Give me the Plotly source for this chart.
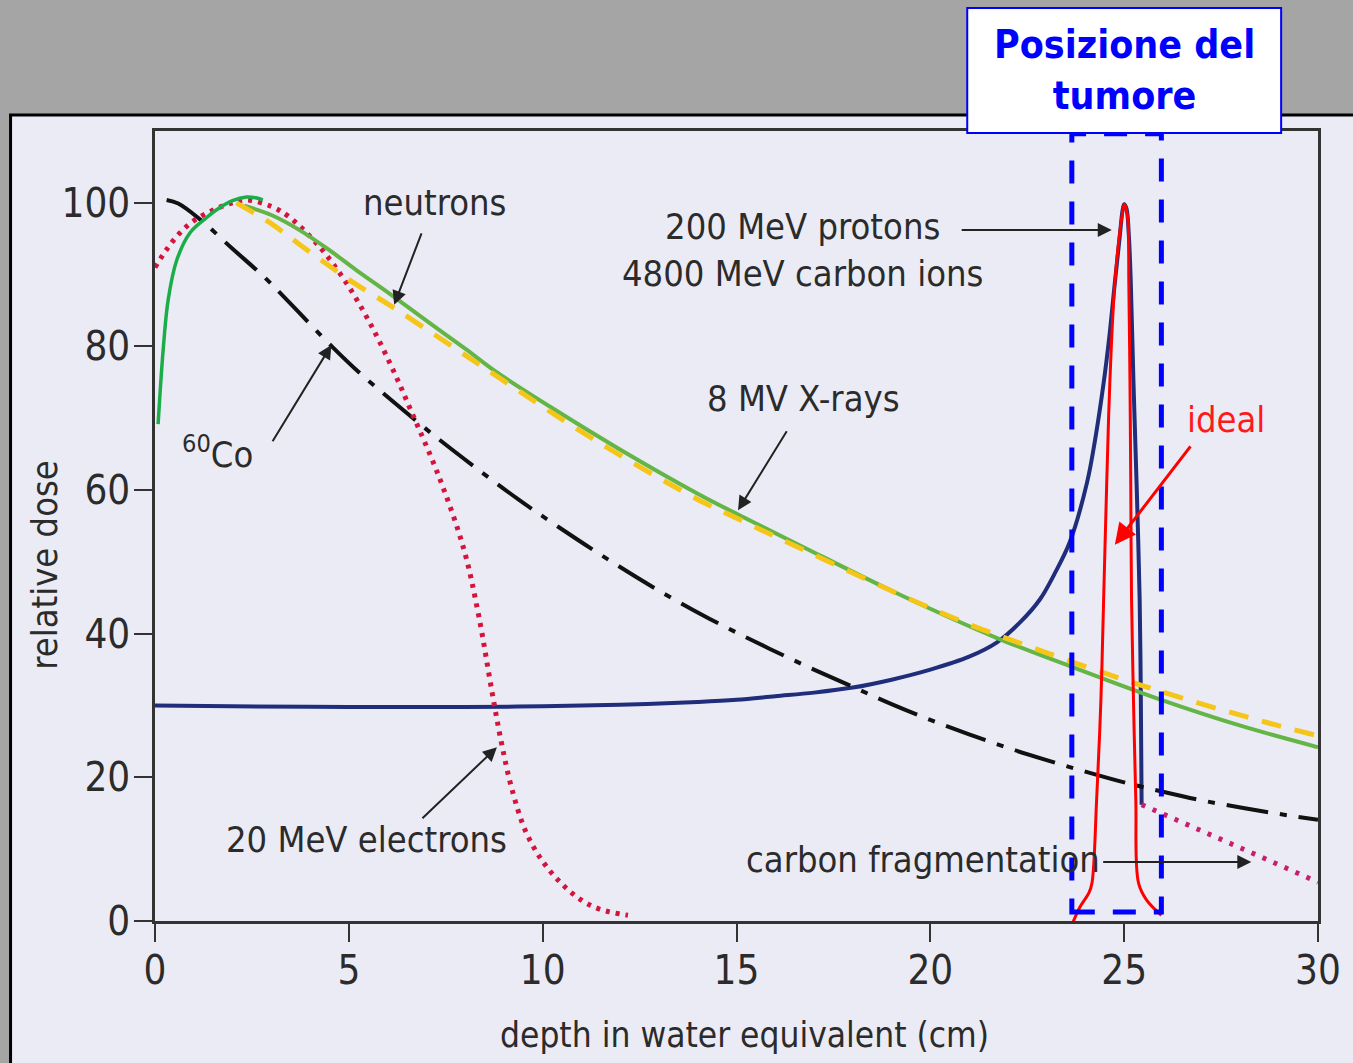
import plotly.graph_objects as go

# ---------------- data ----------------
xr_build_x = [0.08, 0.21, 0.34, 0.56, 0.9, 1.3, 1.58, 2.0, 2.36, 2.6, 2.78]
xr_build_y = [69.2, 79.5, 86.5, 92.0, 95.8, 97.8, 99.0, 100.3, 100.8, 100.7, 100.4]

xray_x = [2.3, 3.0, 3.73, 4.5, 5.2, 6.04, 7.0, 8.0, 8.87, 10.4, 11.95, 14.0, 15.04, 16.6, 19.15, 21.72, 23.6, 25.9, 28.0, 30.0]
xray_y = [99.6, 98.3, 96.2, 93.4, 90.6, 87.4, 83.6, 79.7, 76.2, 70.9, 65.8, 59.5, 56.6, 52.4, 45.6, 39.4, 35.5, 30.9, 27.2, 24.2]

neutron_x = [2.1, 3.0, 3.73, 4.5, 5.2, 6.04, 7.0, 8.0, 9.0, 10.4, 11.95, 14.0, 15.04, 16.6, 19.15, 21.0, 22.2, 24.5, 26.4, 28.7, 30.0]
neutron_y = [100.0, 97.1, 94.2, 91.2, 88.6, 85.8, 82.4, 78.8, 75.2, 70.2, 65.0, 58.7, 56.0, 52.0, 45.6, 41.3, 38.9, 34.5, 31.2, 27.6, 25.8]

co60_x = [0.3, 0.6, 1.16, 2.0, 2.83, 3.47, 4.58, 5.3, 6.17, 7.2, 8.35, 9.4, 10.4, 11.7, 13.0, 14.3, 15.55, 16.8, 18.0, 19.0, 20.0, 21.0, 22.0, 23.0, 24.0, 25.0, 26.0, 27.0, 28.0, 29.0, 30.0]
co60_y = [100.4, 99.9, 97.7, 93.6, 89.6, 86.1, 79.9, 76.2, 72.2, 67.6, 62.8, 58.6, 54.9, 50.3, 46.0, 42.1, 38.7, 35.5, 32.6, 30.2, 28.0, 26.0, 24.1, 22.4, 20.8, 19.3, 18.0, 16.8, 15.8, 14.9, 14.1]

elec_x = [0.0, 0.3, 0.64, 1.0, 1.5, 2.0, 2.36, 3.0, 3.47, 4.24, 4.93, 5.6, 6.22, 6.56, 7.33, 7.97, 8.35, 8.69, 8.93, 9.2, 9.56, 10.0, 10.47, 11.0, 11.5, 12.2]
elec_y = [91.0, 93.5, 95.8, 97.5, 99.0, 100.0, 100.4, 99.5, 98.0, 93.9, 88.9, 82.7, 75.8, 71.6, 61.8, 51.7, 42.5, 32.0, 25.0, 18.5, 12.5, 8.3, 5.3, 2.9, 1.6, 0.8]

proton_x = [0.0, 2.0, 5.0, 8.0, 10.0, 12.0, 14.0, 15.0, 16.0, 17.0, 18.0, 19.0, 20.0, 21.0, 21.72, 22.3, 22.83, 23.2, 23.6, 24.04, 24.25, 24.47, 24.62, 24.76, 24.88, 24.96, 25.0, 25.06, 25.12, 25.17, 25.24, 25.32, 25.4, 25.43, 25.45]
proton_y = [30.0, 29.9, 29.8, 29.8, 29.9, 30.1, 30.5, 30.8, 31.3, 31.8, 32.5, 33.6, 35.0, 36.8, 38.8, 41.5, 44.8, 48.3, 52.8, 61.0, 67.0, 74.9, 81.5, 88.9, 95.0, 99.0, 99.8, 99.2, 95.5, 89.0, 75.0, 61.0, 44.7, 30.8, 16.2]

frag_x = [25.45, 27.0, 28.5, 30.0]
frag_y = [16.2, 12.6, 9.0, 5.4]

ideal_x = [23.65, 23.86, 24.09, 24.17, 24.29, 24.4, 24.47, 24.55, 24.63, 24.76, 24.94, 25.01, 25.09, 25.12, 25.15, 25.17, 25.19, 25.24, 25.3, 25.37, 25.58, 25.96]
ideal_y = [-0.56, 1.95, 3.9, 5.3, 16.9, 30.8, 44.7, 61.0, 74.9, 88.9, 98.0, 99.8, 98.0, 88.9, 74.9, 61.0, 45.0, 30.8, 16.9, 5.3, 2.9, 0.8]

tumor_x = [23.65, 25.96]
tumor_y = [1.25, 109.6]

x_ticks = [0, 5, 10, 15, 20, 25, 30]
y_ticks = [0, 20, 40, 60, 80, 100]

# ---------------- styles ----------------
FONT = "DejaVu Sans Condensed, Liberation Sans Narrow, Arial Narrow, sans-serif"
TXT = "#2b2b2b"
BG = "#ebebf5"
ANN = 36

fig = go.Figure()

fig.add_trace(go.Scatter(x=proton_x, y=proton_y, mode="lines",
                         line=dict(color="#1f2d7b", width=4), line_shape="spline"))
fig.add_trace(go.Scatter(x=frag_x, y=frag_y, mode="lines",
                         line=dict(color="#c81e6e", width=5, dash="4px,8px")))
fig.add_trace(go.Scatter(x=co60_x, y=co60_y, mode="lines", line_shape="spline",
                         line=dict(color="#111111", width=4, dash="42px,12px,7px,12px")))
fig.add_trace(go.Scatter(x=elec_x, y=elec_y, mode="lines", line_shape="spline",
                         line=dict(color="#d4143c", width=5, dash="4px,6px")))
fig.add_trace(go.Scatter(x=xray_x, y=xray_y, mode="lines", line_shape="spline",
                         line=dict(color="#63b545", width=4)))
fig.add_trace(go.Scatter(x=neutron_x, y=neutron_y, mode="lines", line_shape="spline",
                         line=dict(color="#f5c518", width=5, dash="20px,14px")))
fig.add_trace(go.Scatter(x=xr_build_x, y=xr_build_y, mode="lines", line_shape="spline",
                         line=dict(color="#1aad48", width=3.5)))
fig.add_trace(go.Scatter(x=ideal_x, y=ideal_y, mode="lines", line_shape="spline",
                         line=dict(color="#ff0000", width=3)))

shapes = [
    dict(type="rect", xref="paper", yref="paper", x0=-0.2, x1=1.1, y0=-0.3, y1=1.3,
         fillcolor="#a5a5a5", line=dict(width=0), layer="below"),
    dict(type="rect", xref="paper", yref="paper", x0=-0.1242, x1=1.04, y0=-0.2, y1=1.0203,
         fillcolor=BG, line=dict(color="#000000", width=3), layer="below"),
    dict(type="rect", xref="x", yref="y", x0=tumor_x[0], x1=tumor_x[1], y0=tumor_y[0], y1=tumor_y[1],
         line=dict(color="#0000ff", width=5, dash="23px,18px"), layer="above"),
    dict(type="rect", xref="paper", yref="paper", x0=0.6984, x1=0.9683, y0=0.9975, y1=1.1557,
         fillcolor="#ffffff", line=dict(color="#0000ff", width=2), layer="above"),
]

def ann_text(x, y, text, color=TXT, size=ANN):
    return dict(x=x, y=y, xref="x", yref="y", text=text, showarrow=False,
                font=dict(family=FONT, size=size, color=color), align="center",
                xanchor="center", yanchor="middle")

def ann_arrow(x, y, ax, ay, color="#222222", width=2):
    return dict(x=x, y=y, ax=ax, ay=ay, xref="x", yref="y", axref="x", ayref="y",
                text="", showarrow=True, arrowhead=2, arrowsize=1.4, arrowwidth=width,
                arrowcolor=color)

annotations = [
    ann_text(7.2, 100.1, "neutrons"),
    ann_text(16.71, 93.5, "200 MeV protons<br>4800 MeV carbon ions"),
    ann_text(16.74, 72.8, "8 MV X-rays"),
    ann_text(1.62, 65.3, "<sup>60</sup>Co"),
    ann_text(5.45, 11.3, "20 MeV electrons"),
    ann_text(19.82, 8.5, "carbon fragmentation"),
    ann_text(27.63, 69.8, "ideal", color="#ff1a1a"),
    ann_arrow(6.17, 85.8, 6.89, 95.96),
    ann_arrow(24.68, 96.2, 20.77, 96.2),
    ann_arrow(15.04, 57.2, 16.32, 68.4),
    ann_arrow(4.55, 80.2, 3.01, 66.6),
    ann_arrow(8.82, 24.2, 6.86, 14.1),
    ann_arrow(28.28, 8.2, 24.42, 8.2),
    ann_arrow(24.76, 52.4, 26.74, 66.3, color="#ff0000", width=3),
    dict(x=15.2, y=0, xref="x", yref="paper", yshift=-114, text="depth in water equivalent (cm)",
         showarrow=False, font=dict(family=FONT, size=35, color=TXT), xanchor="center", yanchor="middle"),
    dict(x=0, y=49.6, xref="paper", yref="y", xshift=-110, text="relative dose", textangle=-90,
         showarrow=False, font=dict(family=FONT, size=36, color=TXT), xanchor="center", yanchor="middle"),
    dict(x=0.8333, y=1.0772, xref="paper", yref="paper", text="<b>Posizione del<br>tumore</b>",
         showarrow=False, font=dict(family="DejaVu Sans Condensed, Liberation Sans, sans-serif", size=39, color="#0000ff"),
         xanchor="center", yanchor="middle"),
]

axis_common = dict(showgrid=False, zeroline=False, showline=True, linecolor="#333333", linewidth=2.5,
                   mirror=True, ticks="outside", ticklen=18, tickwidth=2, tickcolor="#333333",
                   tickfont=dict(family=FONT, size=40, color=TXT))

fig.update_layout(
    width=1353, height=1063, autosize=False,
    margin=dict(l=155, r=28, t=131, b=142),
    paper_bgcolor="#a5a5a5", plot_bgcolor=BG,
    showlegend=False,
    xaxis=dict(range=[0, 30], tickvals=x_ticks, ticklabelstandoff=-6, **axis_common),
    yaxis=dict(range=[0, 110], tickvals=y_ticks, ticklabelstandoff=-4, **axis_common),
    shapes=shapes, annotations=annotations,
)

fig.write_html("out.html", config={"displayModeBar": False},
               post_script="document.body.style.margin='0';document.body.style.background='#a5a5a5';")
